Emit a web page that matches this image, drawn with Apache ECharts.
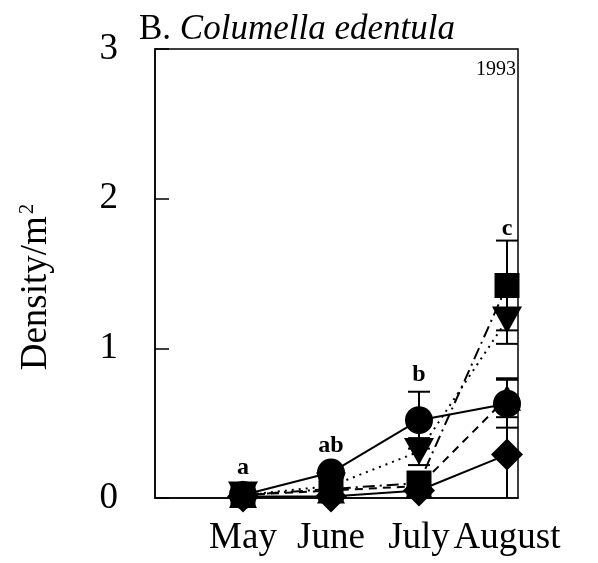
<!DOCTYPE html>
<html>
<head>
<meta charset="utf-8">
<script src="https://cdn.jsdelivr.net/npm/echarts@6/dist/echarts.min.js"></script>
<style>
  html, body { margin: 0; padding: 0; background: #fff; }
  #chart { width: 598px; height: 563px; }
</style>
</head>
<body>
<div id="chart"></div>
<script>
// Sampling months (plotted at positions 1..4)
const months = ['May', 'June', 'July', 'August'];
const yTicks = [0, 1, 2, 3];

// Mean density per month for each group, with standard errors
const circleMean   = [0.02, 0.17, 0.52, 0.63];
const circleErr    = [0.00, 0.02, 0.19, 0.16];
const squareMean   = [0.02, 0.06, 0.10, 1.42];
const squareErr    = [0.00, 0.00, 0.05, 0.30];
const triDownMean  = [0.02, 0.08, 0.31, 1.19];
const triDownErr   = [0.00, 0.02, 0.09, 0.16];
const triUpMean    = [0.02, 0.05, 0.08, 0.67];
const triUpErr     = [0.00, 0.00, 0.04, 0.13];
const diamondMean  = [0.01, 0.01, 0.05, 0.29];
const diamondErr   = [0.00, 0.00, 0.02, 0.29];

// Significance letters per month and the height they sit at
const letters      = ['a', 'ab', 'b', 'c'];
const letterHeight = [0.20, 0.35, 0.82, 1.80];

const FONT = '"Liberation Serif", "Times New Roman", serif';

function pts(vals) { return vals.map((v, i) => [i + 1, v]); }
function errPts(vals, errs) { return vals.map((v, i) => [i + 1, v - errs[i], v + errs[i]]); }

function errorSeries(vals, errs) {
  return {
    type: 'custom',
    silent: true,
    z: 1,
    data: errPts(vals, errs).filter(d => d[2] - d[1] > 0),
    renderItem: function (params, api) {
      const x = api.value(0);
      const lo = api.coord([x, Math.max(0, api.value(1))]);
      const hi = api.coord([x, api.value(2)]);
      const cap = 11;
      const style = { stroke: '#000', lineWidth: 2 };
      const children = [
        { type: 'line', shape: { x1: lo[0], y1: lo[1], x2: hi[0], y2: hi[1] }, style: style },
        { type: 'line', shape: { x1: hi[0] - cap, y1: hi[1], x2: hi[0] + cap, y2: hi[1] }, style: style }
      ];
      if (api.value(1) > 0) {
        children.push({ type: 'line', shape: { x1: lo[0] - cap, y1: lo[1], x2: lo[0] + cap, y2: lo[1] }, style: style });
      }
      return { type: 'group', children: children };
    }
  };
}

function lineSeries(vals, symbol, size, dash, rotate) {
  return {
    type: 'line',
    data: pts(vals),
    symbol: symbol,
    symbolSize: size,
    symbolRotate: rotate || 0,
    showAllSymbol: true,
    z: 3,
    itemStyle: { color: '#000', borderWidth: 0 },
    lineStyle: { color: '#000', width: 2, type: dash },
    emphasis: { disabled: true },
    animation: false
  };
}

const chart = echarts.init(document.getElementById('chart'), null, { renderer: 'canvas' });

chart.setOption({
  animation: false,
  backgroundColor: '#fff',
  title: {
    text: '{n|B. }{i|Columella edentula}',
    left: 134,
    top: 7,
    textStyle: {
      fontWeight: 'normal',
      rich: {
        n: { fontFamily: FONT, fontSize: 35, fontWeight: 'normal', color: '#000' },
        i: { fontFamily: FONT, fontSize: 35, fontWeight: 'normal', fontStyle: 'italic', color: '#000' }
      }
    }
  },
  graphic: [
    {
      type: 'text',
      right: 82,
      top: 60,
      style: { text: '1993', font: '20px ' + FONT, fill: '#000' }
    },
    {
      // y-axis title, rotated
      type: 'text',
      x: 36,
      y: 287,
      rotation: Math.PI / 2,
      style: {
        text: '{t|Density/m}{s|2}',
        align: 'center',
        verticalAlign: 'middle',
        rich: {
          t: { fontFamily: FONT, fontSize: 37, fill: '#000' },
          s: { fontFamily: FONT, fontSize: 21, fill: '#000', verticalAlign: 'top', padding: [0, 0, 18, 2] }
        }
      }
    }
  ],
  grid: { left: 155, right: 80, top: 49, bottom: 65, show: true, borderColor: '#000', borderWidth: 1.5 },
  xAxis: {
    type: 'value',
    min: 0,
    max: 4.125,
    interval: 1,
    axisLine: { show: true, onZero: false, lineStyle: { color: '#000', width: 1.5 } },
    axisTick: { show: false },
    splitLine: { show: false },
    axisLabel: {
      margin: 22,
      fontFamily: FONT,
      fontSize: 37,
      color: '#000',
      showMinLabel: false,
      showMaxLabel: false,
      formatter: v => (v >= 1 && v <= 4 && Number.isInteger(v)) ? months[v - 1] : ''
    }
  },
  yAxis: {
    type: 'value',
    min: yTicks[0],
    max: yTicks[yTicks.length - 1],
    interval: 1,
    axisLine: { show: true, lineStyle: { color: '#000', width: 1.5 } },
    axisTick: { show: true, inside: true, length: 14, lineStyle: { color: '#000', width: 1.5 } },
    splitLine: { show: false },
    axisLabel: { margin: 37, fontFamily: FONT, fontSize: 37, color: '#000', padding: [12, 0, 0, 0] }
  },
  series: [
    errorSeries(circleMean, circleErr),
    errorSeries(squareMean, squareErr),
    errorSeries(triDownMean, triDownErr),
    errorSeries(triUpMean, triUpErr),
    errorSeries(diamondMean, diamondErr),
    lineSeries(diamondMean, 'diamond', [32, 32], 'solid'),
    lineSeries(triUpMean, 'triangle', [28, 26], [8, 6]),
    lineSeries(triDownMean, 'triangle', [30, 27], [2, 5], 180),
    lineSeries(squareMean, 'rect', [25, 25], [12, 5, 2, 5]),
    lineSeries(circleMean, 'circle', 28, 'solid'),
    {
      // significance letters above each month
      type: 'custom',
      silent: true,
      z: 5,
      data: letterHeight.map((v, i) => [i + 1, v]),
      renderItem: function (params, api) {
        const p = api.coord([api.value(0), api.value(1)]);
        return {
          type: 'text',
          x: p[0],
          y: p[1],
          style: {
            text: letters[params.dataIndex],
            font: 'bold 24px ' + FONT,
            fill: '#000',
            align: 'center',
            verticalAlign: 'middle'
          }
        };
      }
    }
  ]
});
</script>
</body>
</html>
